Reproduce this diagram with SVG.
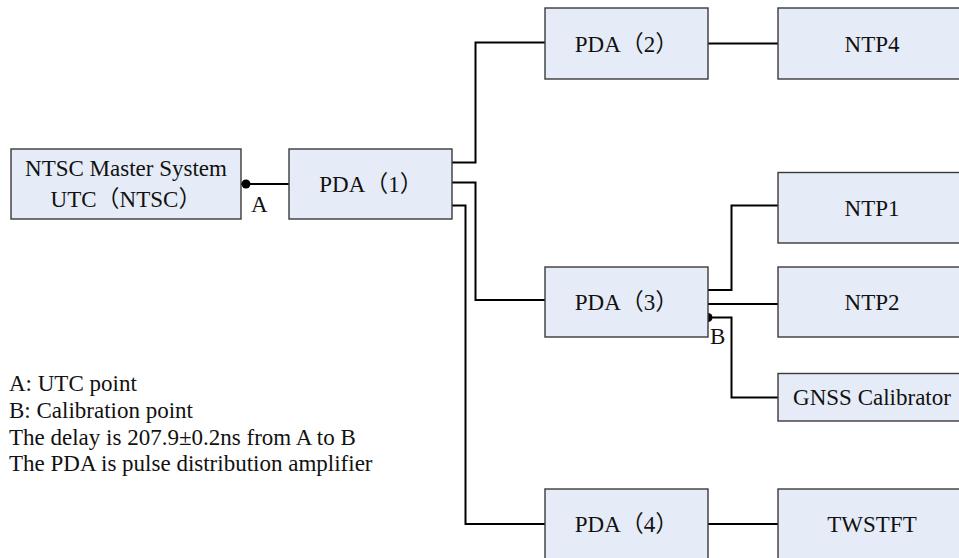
<svg xmlns="http://www.w3.org/2000/svg" width="959" height="558" viewBox="0 0 959 558" font-family="Liberation Serif, Times New Roman, DejaVu Serif, serif">
<style>
.box{fill:#E6ECF7;stroke:#3a3a3a;stroke-width:1.4}
text{font-family:"Liberation Serif","Times New Roman","Noto Sans CJK SC",serif;font-size:23px;fill:#111}
.t{text-anchor:middle}
.c{fill:none;stroke:#000;stroke-width:2}
.dot{fill:#000}
</style>
<rect width="959" height="558" fill="#fff"/>
<g id="connectors">
<path class="c" d="M241,184 H289"/>
<path class="c" d="M452,162.5 H475.5 V42.5 H545"/>
<path class="c" d="M452,182.5 H475.5 V300 H545"/>
<path class="c" d="M452,205.5 H465.5 V524 H545"/>
<path class="c" d="M708,43.5 H778"/>
<path class="c" d="M708,290 H731.5 V205.5 H778"/>
<path class="c" d="M708,304 H778"/>
<path class="c" d="M708,317.5 H731.5 V397.5 H778"/>
<path class="c" d="M708,524 H778"/>
<circle class="dot" cx="246" cy="184" r="4.5"/>
<circle class="dot" cx="708" cy="317.5" r="4.5"/>
<text x="251" y="212">A</text>
<text x="710" y="344">B</text>
</g>
<g id="ntsc">
<rect class="box" x="11" y="149" width="230" height="70"/>
<text class="t" x="126" y="176">NTSC Master System</text>
<text class="t" x="126" y="207">UTC（NTSC）</text>
</g>
<g id="pda1">
<rect class="box" x="289" y="149" width="163" height="70"/>
<text class="t" x="371" y="192">PDA（1）</text>
</g>
<g id="pda2">
<rect class="box" x="545" y="8" width="163" height="71"/>
<text class="t" x="626.5" y="51.5">PDA（2）</text>
</g>
<g id="ntp4">
<rect class="box" x="778" y="8" width="190" height="71"/>
<text class="t" x="872" y="51.5">NTP4</text>
</g>
<g id="ntp1">
<rect class="box" x="778" y="172.5" width="190" height="70.5"/>
<text class="t" x="872" y="215.5">NTP1</text>
</g>
<g id="pda3">
<rect class="box" x="545" y="267" width="163" height="70"/>
<text class="t" x="626.5" y="310">PDA（3）</text>
</g>
<g id="ntp2">
<rect class="box" x="778" y="267" width="190" height="70"/>
<text class="t" x="872" y="310">NTP2</text>
</g>
<g id="gnss">
<rect class="box" x="778" y="373.5" width="190" height="47.5"/>
<text class="t" x="872" y="405">GNSS Calibrator</text>
</g>
<g id="pda4">
<rect class="box" x="545" y="489" width="163" height="80"/>
<text class="t" x="626.5" y="532">PDA（4）</text>
</g>
<g id="twstft">
<rect class="box" x="778" y="489" width="190" height="80"/>
<text class="t" x="872" y="532">TWSTFT</text>
</g>
<g id="legend">
<text x="9" y="391">A: UTC point</text>
<text x="9" y="418">B: Calibration point</text>
<text x="9" y="444.5">The delay is 207.9±0.2ns from A to B</text>
<text x="9" y="471">The PDA is pulse distribution amplifier</text>
</g>
</svg>
